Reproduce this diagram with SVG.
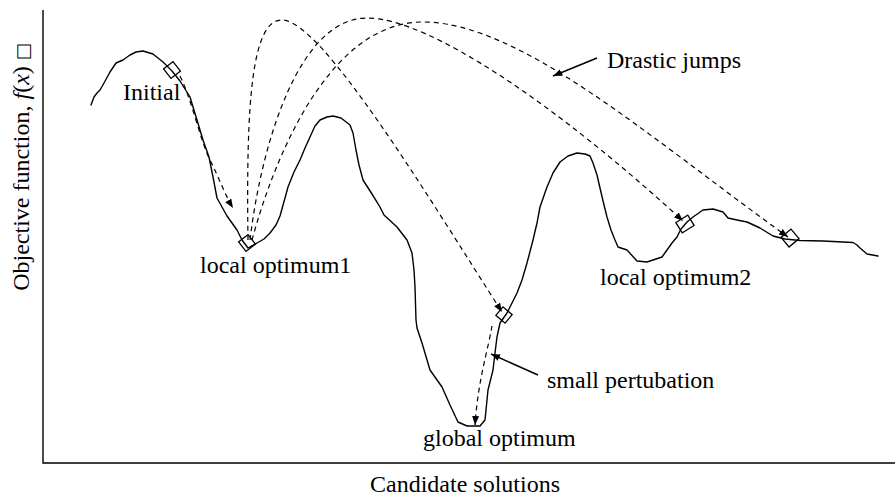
<svg xmlns="http://www.w3.org/2000/svg" width="895" height="500" viewBox="0 0 895 500">
<style>
.t{font-family:"Liberation Serif","Times New Roman",serif;font-size:24px;fill:#000}
.curve{fill:none;stroke:#000;stroke-width:1.4;stroke-linejoin:round;stroke-linecap:round}
.dash{fill:none;stroke:#000;stroke-width:1.2;stroke-dasharray:5 4}
.solid{fill:none;stroke:#000;stroke-width:1.5}
.dia{fill:none;stroke:#000;stroke-width:1.3}
.axis{fill:none;stroke:#000;stroke-width:1.4}
</style>
<defs>
<marker id="ah" markerUnits="userSpaceOnUse" markerWidth="10" markerHeight="8" refX="9" refY="3.5" orient="auto">
<path d="M0,0 L9,3.5 L0,7 z" fill="#000"/>
</marker>
</defs>
<g id="axes">
<path class="axis" d="M43,10 V463 H895"/>
<text class="t" x="465" y="492" text-anchor="middle">Candidate solutions</text>
<text class="t" transform="translate(29,167) rotate(-90)" text-anchor="middle" font-size="25.5">Objective function,  <tspan font-style="italic">f</tspan>(<tspan font-style="italic">x</tspan>) <tspan font-family="DejaVu Sans" font-size="18">□</tspan></text>
</g>
<g id="landscape">
<polyline class="curve" points="91,105 94,97 97,93 100,90 104,83 110,72 116,63 123,60 130,55 136,52 143,51 153,54 163,62 172,71 180,81 190,97 197,120 203,140 209,157 213,177 217,198 227,216 237,230 242,240 248,248 257,243 264,239 270,233 276,225 280,216 285,198 288,187 294,172 300,160 305,148 310,137 315,126 320,120 327,117 333,116 341,118 350,125 353,133 356,150 359,165 363,180 372,194 380,207 384,215 397,227 407,240 412,253 414,270 415,287 416,320 417,328 422,343 430,370 442,387 450,405 458,422 467,426 480,426 485,420 488,390 493,370 495,353 497,337 500,323 507,313 517,293 522,280 527,263 533,240 537,223 540,207 547,187 553,173 560,162 568,156 577,153 585,154 590,156 593,163 597,175 600,188 604,205 607,217 611,230 615,240 618,247 627,250 637,261 647,262 662,257 667,250 672,243 677,237 681,229 687,222 693,217 703,210 713,209 723,212 728,218 737,220 747,222 760,228 773,236 785,239 800,240.5 823,241 853,242.5 857,245 860,248 867,254 878,256"/>
</g>
<g id="node-initial">
<rect class="dia" x="-6" y="-6" width="12" height="12" transform="translate(172,70) rotate(-38)"/>
<text class="t" x="123" y="100">Initial</text>
</g>
<g id="node-local1">
<rect class="dia" x="-6" y="-6" width="12" height="12" transform="translate(247,243) rotate(-38)"/>
<text class="t" x="200" y="273">local optimum1</text>
</g>
<g id="node-global-entry">
<rect class="dia" x="-6" y="-5.5" width="12" height="11" transform="translate(504,315) rotate(40)"/>
</g>
<g id="node-global">
<text class="t" x="423" y="446">global optimum</text>
</g>
<g id="node-local2">
<rect class="dia" x="-7" y="-6" width="14" height="12" transform="translate(685,224) rotate(-32)"/>
<text class="t" x="600" y="285">local optimum2</text>
</g>
<g id="node-right">
<rect class="dia" x="-6.5" y="-6.2" width="13" height="12.5" transform="translate(790,238) rotate(-40)"/>
</g>
<g id="labels">
<text class="t" x="607" y="68">Drastic jumps</text>
<text class="t" x="547" y="388">small pertubation</text>
</g>
<g id="connectors">
<path class="dash" marker-end="url(#ah)" d="M180,76 C192,100 200,140 210,160 S225,195 233,208"/>
<path class="dash" marker-end="url(#ah)" d="M248,240 C246,100 252,20 282,20 C322,20 430,200 502,312"/>
<path class="dash" marker-end="url(#ah)" d="M250,240 C262,140 300,18 367,18 C430,18 560,108 683,221"/>
<path class="dash" marker-end="url(#ah)" d="M252,240 C275,155 330,22 423,22 C520,22 650,138 788,237"/>
<path class="dash" marker-end="url(#ah)" d="M492,326 C488,350 478,380 475,425"/>
<path class="solid" marker-end="url(#ah)" d="M597,58 L553,76"/>
<path class="solid" marker-end="url(#ah)" d="M538,375 L491,354"/>
</g>
</svg>
